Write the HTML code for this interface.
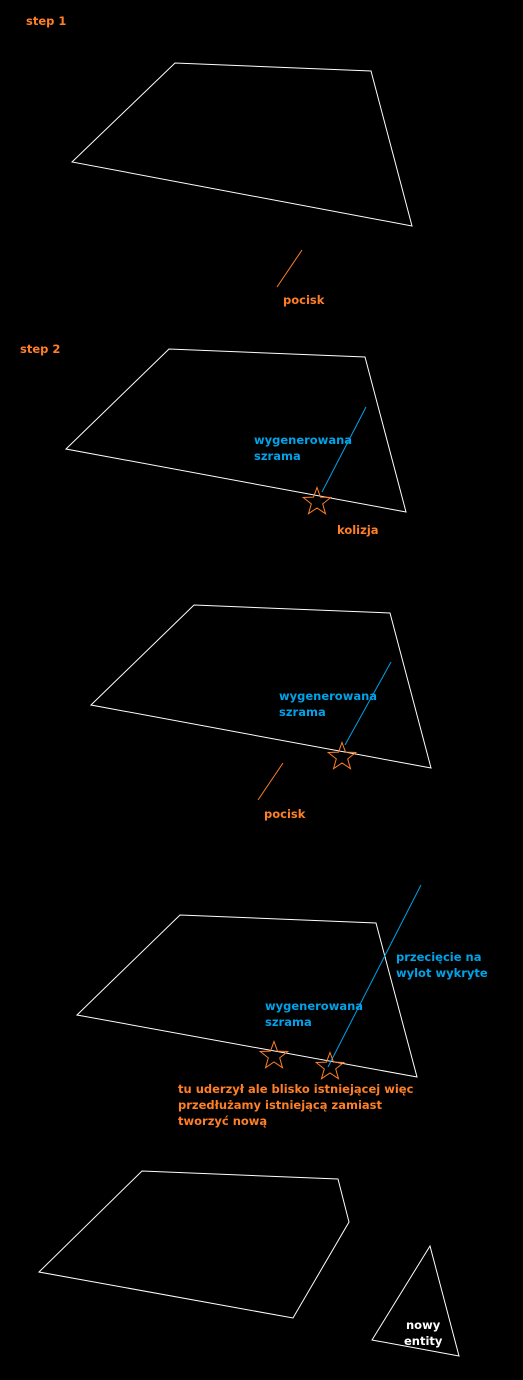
<!DOCTYPE html>
<html><head><meta charset="utf-8"><style>
html,body{margin:0;padding:0;background:#000;width:523px;height:1380px;overflow:hidden}
svg{display:block}
text{font-family:"DejaVu Sans","Liberation Sans",sans-serif;font-weight:bold;font-size:11.5px}
.o{fill:#ff7f27}.b{fill:#00a2e8}.w{fill:#fff}
</style></head><body>
<svg width="523" height="1380" viewBox="0 0 523 1380">
<g fill="none" stroke="#fff" stroke-width="1">
<polygon points="72,162 175,63 371,71 412,226"/>
<polygon points="66,449 169,349 365,357 406,512"/>
<polygon points="91,705 194,605 390,613 431,768"/>
<polygon points="77,1015 180,915 376,923 417,1077"/>
<polygon points="39,1272 142,1171 338,1179 349,1222 293,1318"/>
<polygon points="430,1246 459,1356 372,1340"/>
</g>
<g stroke="#ff7f27" stroke-width="1">
<line x1="277" y1="287" x2="302" y2="250"/>
<line x1="258" y1="800" x2="283" y2="763"/>
</g>
<g stroke="#00a2e8" stroke-width="1">
<line x1="322" y1="492" x2="366" y2="407"/>
<line x1="345" y1="745" x2="391" y2="662"/>
<line x1="328" y1="1067" x2="421" y2="885"/>
</g>
<g id="stars" fill="none" stroke="#ff7f27" stroke-width="1"></g>
<text class="o" x="26" y="25">step 1</text>
<text class="o" x="283" y="304">pocisk</text>
<text class="o" x="20" y="353">step 2</text>
<text class="b" x="254" y="444"><tspan x="254">wygenerowana</tspan><tspan x="254" dy="16">szrama</tspan></text>
<text class="o" x="337" y="534">kolizja</text>
<text class="b" x="279" y="700"><tspan x="279">wygenerowana</tspan><tspan x="279" dy="16">szrama</tspan></text>
<text class="o" x="264" y="818">pocisk</text>
<text class="b" x="396" y="961"><tspan x="396">przecięcie na</tspan><tspan x="396" dy="16">wylot wykryte</tspan></text>
<text class="b" x="265" y="1010"><tspan x="265">wygenerowana</tspan><tspan x="265" dy="16">szrama</tspan></text>
<text class="o" x="178" y="1093"><tspan x="178">tu uderzył ale blisko istniejącej więc</tspan><tspan x="178" dy="16">przedłużamy istniejącą zamiast</tspan><tspan x="178" dy="16">tworzyć nową</tspan></text>
<text class="w" x="406" y="1329"><tspan x="406">nowy</tspan><tspan x="404" dy="16">entity</tspan></text>
</svg>
<script>
const starX=[317,342,274,330];
const starY=[502,757,1056,1067];
const g=document.getElementById('stars');
for(let i=0;i<starX.length;i++){
  let pts=[];
  for(let k=0;k<10;k++){
    const r=k%2?6:14.5, a=-Math.PI/2+k*Math.PI/5;
    pts.push((starX[i]+r*Math.cos(a)).toFixed(1)+','+(starY[i]+r*Math.sin(a)).toFixed(1));
  }
  const p=document.createElementNS('http://www.w3.org/2000/svg','polygon');
  p.setAttribute('points',pts.join(' '));
  
  
  g.appendChild(p);
}
</script>
</body></html>
